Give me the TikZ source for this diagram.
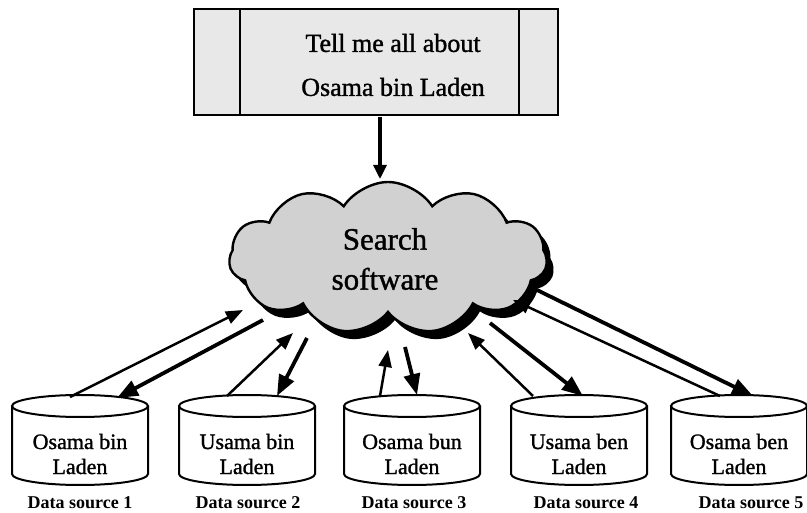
\documentclass[tikz,border=0pt]{standalone}
\usepackage{fontspec}
\setmainfont{Liberation Serif}
\newfontfamily\heavyserif[FakeBold=1.2]{Liberation Serif}
\usetikzlibrary{shapes.symbols,arrows.meta}
\tikzset{
  thickarr/.style={line width=3.8pt,-{Triangle[length=21pt,width=16pt]}},
  thinarr/.style={line width=2.5pt,-{Triangle[length=17pt,width=13pt]}},
  dbline/.style={line width=2pt},
  dblabel/.style={font=\fontsize{18}{20}\selectfont\bfseries},
  dbtext/.style={font=\fontsize{22}{25}\selectfont\heavyserif,align=center},
}
\newcommand{\dbcyl}[3]{%
  \fill[white] (#1-68,406) -- (#1-68,474) arc[start angle=180,end angle=0,x radius=68,y radius=11] -- (#1+68,406) -- cycle;
  \draw[dbline] (#1,406) ellipse[x radius=68,y radius=11];
  \draw[dbline] (#1-68,406) -- (#1-68,474) arc[start angle=180,end angle=0,x radius=68,y radius=11] -- (#1+68,406);
  \node[dbtext] (#2) at (#1,454) {#3};
}
\begin{document}
\begin{tikzpicture}[x=1pt,y=-1pt]
\useasboundingbox (0,0) rectangle (807,513);
% query box
\node[draw,line width=2pt,fill=black!9,minimum width=364pt,minimum height=106pt,inner sep=0] (query) at (376,62) {};
\draw[line width=2pt] (240,9) -- (240,115) (519,9) -- (519,115);
\node[font=\fontsize{26}{44}\selectfont\heavyserif,align=center] (qtext) at (393,65) {Tell me all about\\Osama bin Laden};
% cloud
\node[cloud,cloud puffs=11,cloud puff arc=115,aspect=2.1,fill=black,minimum width=318pt,minimum height=152pt] (shadow) at (395,266) {};
\node[cloud,cloud puffs=11,cloud puff arc=115,aspect=2.1,draw,line width=2.4pt,fill=black!18,minimum width=318pt,minimum height=152pt] (cloud) at (388,258) {};
\node[font=\fontsize{31}{40}\selectfont\heavyserif,align=center] (ctext) at (385,259) {Search\\software};
% top arrow
\coordinate (qa) at (380,117);
\coordinate (ca) at (380,179);
\draw[line width=3.2pt,-{Triangle[length=14pt,width=13pt]}] (qa) -- (ca);
% databases
\dbcyl{80}{db1}{Osama bin\\Laden}
\dbcyl{247}{db2}{Usama bin\\Laden}
\dbcyl{412}{db3}{Osama bun\\Laden}
\dbcyl{579}{db4}{Usama ben\\Laden}
\dbcyl{739}{db5}{Osama ben\\Laden}
\node[dblabel] (l1) at (80,503) {Data source 1};
\node[dblabel] (l2) at (248,503) {Data source 2};
\node[dblabel] (l3) at (414,503) {Data source 3};
\node[dblabel] (l4) at (586,503) {Data source 4};
\node[dblabel] (l5) at (751,503) {Data source 5};
% connector end points
\coordinate (d1o) at (70,397);   \coordinate (c1i) at (243,310);
\coordinate (c1o) at (263,320);  \coordinate (d1i) at (117,398);
\coordinate (d2o) at (227,396);  \coordinate (c2i) at (293,333);
\coordinate (c2o) at (307,338);  \coordinate (d2i) at (277,396);
\coordinate (d3o) at (380,396);  \coordinate (c3i) at (388,350);
\coordinate (c3o) at (405,347);  \coordinate (d3i) at (417,395);
\coordinate (d4o) at (533,396);  \coordinate (c4i) at (468,333);
\coordinate (c4o) at (490,323);  \coordinate (d4i) at (583,396);
\coordinate (d5o) at (720,396);  \coordinate (c5i) at (513,300);
\coordinate (c5o) at (537,290);  \coordinate (d5i) at (753,396);
\draw[thinarr] (d1o) -- (c1i);
\draw[thickarr] (c1o) -- (d1i);
\draw[thinarr] (d2o) -- (c2i);
\draw[thickarr] (c2o) -- (d2i);
\draw[thinarr] (d3o) -- (c3i);
\draw[thickarr] (c3o) -- (d3i);
\draw[thinarr] (d4o) -- (c4i);
\draw[thickarr] (c4o) -- (d4i);
\draw[thinarr] (d5o) -- (c5i);
\draw[thickarr] (c5o) -- (d5i);
\end{tikzpicture}
\end{document}
